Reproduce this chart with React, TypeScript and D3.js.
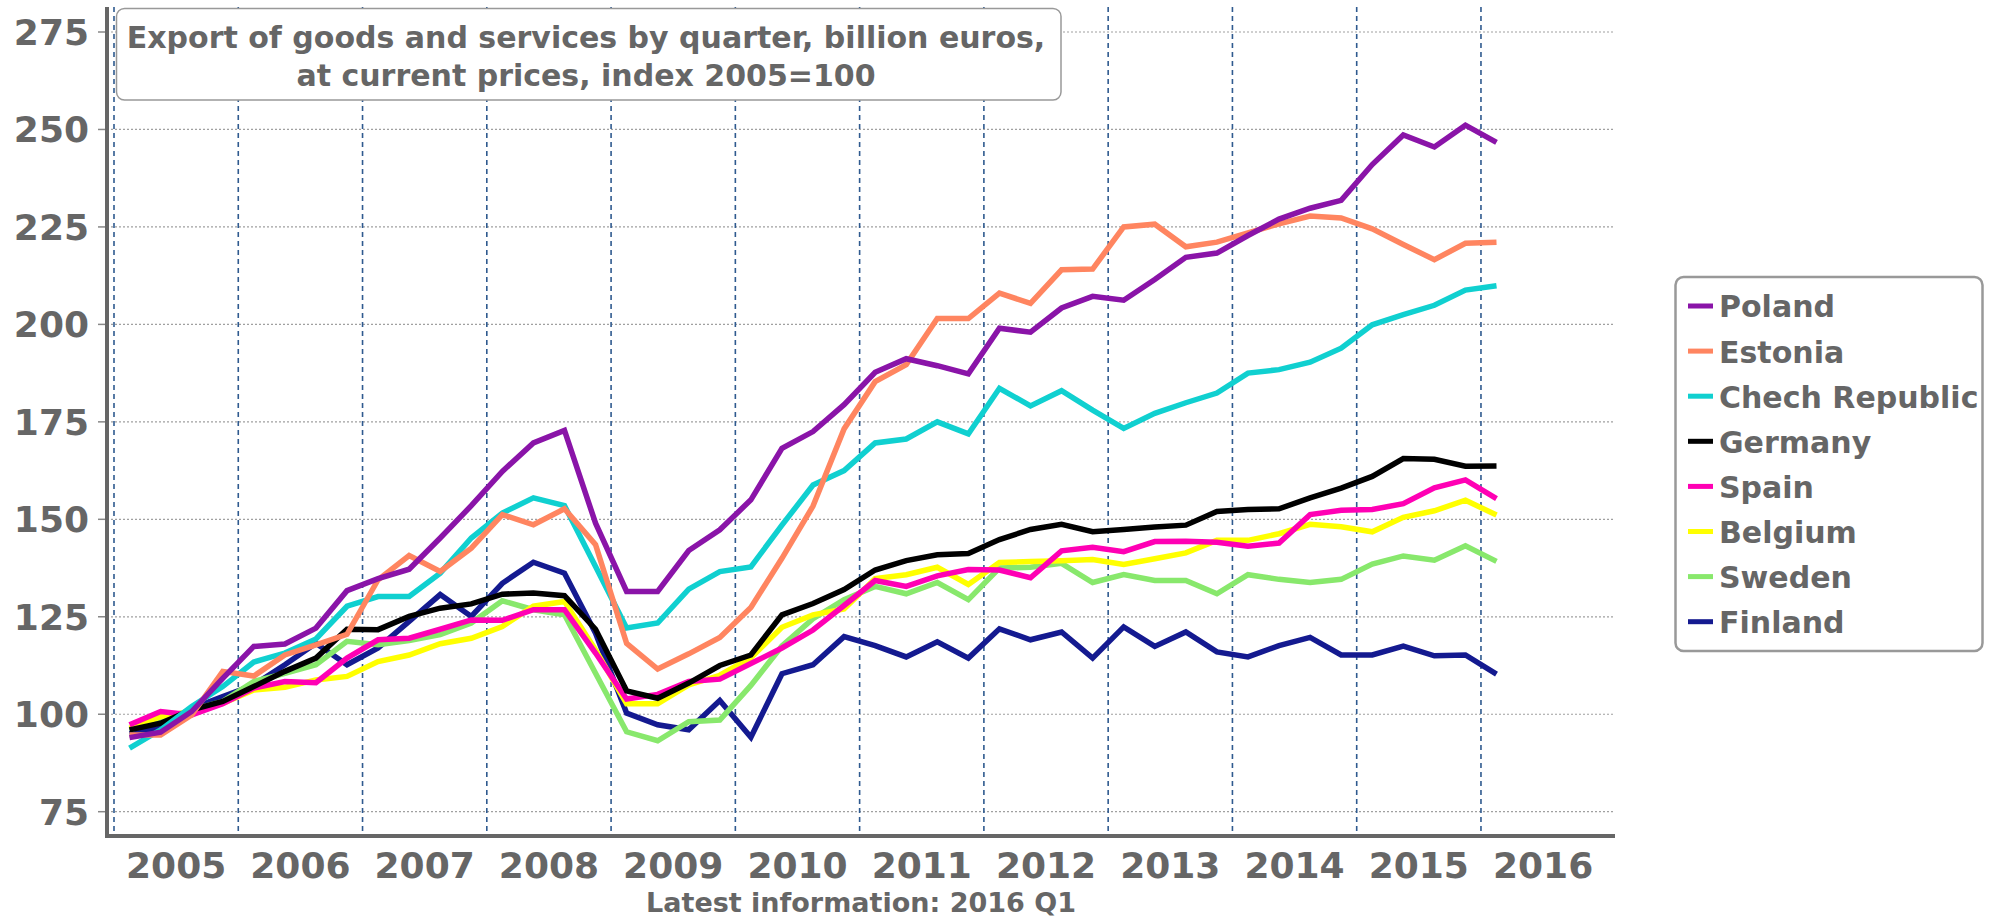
import React from 'react';
import * as d3 from 'd3';

// quarterly index values, 2005 Q1 .. 2016 Q1
const poland = [
  94.0, 95.4, 100.7, 109.2, 117.4, 118.0, 122.1, 131.7, 134.8, 137.2, 145.2, 153.5,
  162.3, 169.6, 172.8, 149.0, 131.5, 131.5, 142.0, 147.3, 155.0, 168.2, 172.5, 179.4,
  187.7, 191.2, 189.4, 187.3, 199.0, 198.0, 204.2, 207.2, 206.2, 211.5, 217.2, 218.3,
  222.8, 227.0, 229.8, 231.8, 241.0, 248.6, 245.5, 251.1, 246.7,
];
const estonia = [
  94.7, 94.7, 99.8, 111.0, 109.8, 115.2, 117.8, 120.5, 134.5, 140.7, 136.6, 142.6,
  151.2, 148.6, 152.7, 143.5, 118.2, 111.6, 115.5, 119.7, 127.4, 140.0, 153.4, 173.2,
  185.3, 189.7, 201.5, 201.5, 208.0, 205.4, 214.0, 214.2, 225.0, 225.7, 219.9, 221.1,
  223.5, 225.8, 227.8, 227.3, 224.5, 220.5, 216.6, 220.8, 221.1,
];
const czech = [
  91.3, 96.0, 102.0, 107.1, 113.4, 115.7, 119.3, 127.7, 130.2, 130.2, 136.2, 145.2,
  151.6, 155.5, 153.5, 137.9, 122.1, 123.4, 132.1, 136.6, 137.8, 148.5, 158.8, 162.5,
  169.6, 170.6, 175.0, 171.9, 183.6, 179.1, 183.0, 178.0, 173.3, 177.2, 179.9, 182.4,
  187.5, 188.4, 190.3, 193.9, 199.9, 202.5, 204.9, 208.8, 209.9,
];
const germany = [
  96.0, 97.7, 101.1, 103.3, 107.1, 111.0, 114.4, 121.8, 121.7, 125.1, 127.2, 128.3,
  130.8, 131.1, 130.4, 121.8, 106.0, 104.1, 108.0, 112.5, 115.2, 125.5, 128.4, 132.0,
  137.0, 139.4, 140.9, 141.2, 144.8, 147.4, 148.7, 146.8, 147.4, 148.0, 148.5, 152.0,
  152.5, 152.7, 155.5, 158.0, 161.0, 165.6, 165.4, 163.6, 163.7,
];
const spain = [
  97.3, 100.7, 99.8, 102.7, 106.7, 108.4, 108.1, 114.4, 119.1, 119.5, 121.8, 124.2,
  124.1, 126.8, 126.8, 115.7, 103.9, 105.1, 108.4, 109.0, 113.0, 117.0, 121.6, 127.9,
  134.3, 132.8, 135.5, 137.1, 137.0, 135.0, 141.9, 142.8, 141.7, 144.3, 144.4, 144.1,
  143.1, 143.9, 151.2, 152.3, 152.5, 154.0, 158.1, 160.1, 155.3,
];
const belgium = [
  96.4, 99.4, 100.7, 102.8, 106.2, 106.9, 108.8, 109.7, 113.5, 115.2, 118.1, 119.5,
  122.5, 127.7, 128.9, 116.5, 102.7, 102.7, 107.5, 110.0, 114.5, 122.3, 125.5, 127.0,
  134.8, 135.8, 137.7, 133.3, 138.9, 139.2, 139.4, 139.7, 138.4, 139.9, 141.4, 144.6,
  144.6, 146.3, 148.7, 148.1, 146.8, 150.5, 152.2, 154.9, 151.1,
];
const sweden = [
  96.0, 98.5, 101.1, 103.3, 108.4, 110.5, 112.7, 118.7, 117.8, 118.9, 120.4, 123.4,
  129.1, 126.8, 125.5, 110.5, 95.5, 93.2, 98.1, 98.5, 107.4, 117.5, 124.5, 129.4,
  132.8, 130.9, 133.8, 129.4, 137.5, 137.7, 138.7, 133.8, 135.8, 134.3, 134.3, 130.9,
  135.8, 134.6, 133.8, 134.6, 138.5, 140.6, 139.5, 143.2, 139.2,
];
const finland = [
  95.0, 96.4, 101.5, 104.5, 107.5, 112.7, 118.2, 112.7, 117.0, 123.8, 130.7, 125.1,
  133.6, 139.0, 136.2, 120.8, 100.3, 97.3, 96.0, 103.5, 94.1, 110.4, 112.7, 119.9,
  117.6, 114.7, 118.6, 114.4, 121.9, 119.1, 121.1, 114.4, 122.4, 117.4, 121.1, 116.0,
  114.7, 117.6, 119.7, 115.2, 115.2, 117.5, 115.0, 115.2, 110.3,
];

const countries = ['Poland', 'Estonia', 'Chech Republic', 'Germany', 'Spain', 'Belgium', 'Sweden', 'Finland'];
const colors = ['#8a14a8', '#ff8560', '#10d0d0', '#000000', '#ff00b4', '#ffff00', '#88e86c', '#141a90'];
const seriesValues = [poland, estonia, czech, germany, spain, belgium, sweden, finland];

const years = [2005, 2006, 2007, 2008, 2009, 2010, 2011, 2012, 2013, 2014, 2015, 2016];
const yTicks = [75, 100, 125, 150, 175, 200, 225, 250, 275];
const titleLines = ['Export of goods and services by quarter, billion euros,', 'at current prices, index 2005=100'];
const footnote = 'Latest information: 2016 Q1';

const W = 1999;
const H = 919;
const FONT = '"DejaVu Sans", Verdana, sans-serif';
const TEXT = '#666666';

export default function App() {
  const left = 107;
  const right = 1615;
  const top = 7;
  const bottom = 836;

  // x in quarters counted from the start of 2005
  const x = d3.scaleLinear().domain([0, 44]).range([114, 114 + 44 * (124.27 / 4)]);
  const y = d3.scaleLinear().domain([75, 275]).range([811.7, 32]);

  const line = d3.line<number>()
    .x((_, i) => x(i + 0.5))
    .y(d => y(d));

  const drawOrder = d3.range(countries.length).reverse();

  return (
    <svg width={W} height={H} style={{ position: 'absolute', left: 0, top: 0, background: '#fff' }}
      fontFamily={FONT}>
      {/* horizontal dotted grid */}
      {yTicks.map(t => (
        <g key={t}>
          <line x1={left} x2={right} y1={y(t)} y2={y(t)} stroke="#a0a0a0" strokeWidth={1.2} strokeDasharray="2,2" />
          <line x1={98} x2={left} y1={y(t)} y2={y(t)} stroke="#888" strokeWidth={1.5} />
          <text x={89} y={y(t)} dy="0.36em" textAnchor="end" fontSize={36} fontWeight="bold" fill={TEXT}>{t}</text>
        </g>
      ))}

      {/* year separators */}
      {years.map((yr, k) => (
        <line key={yr} x1={x(k * 4)} x2={x(k * 4)} y1={top} y2={bottom} stroke="#2f5a8f" strokeWidth={1.6} strokeDasharray="5,4" />
      ))}

      {/* series */}
      {drawOrder.map(i => (
        <path key={countries[i]} d={line(seriesValues[i]) || ''} fill="none" stroke={colors[i]}
          strokeWidth={5.5} strokeLinejoin="miter" strokeMiterlimit={3} />
      ))}

      {/* axes */}
      <line x1={left} x2={left} y1={top} y2={bottom + 2} stroke="#666" strokeWidth={4} />
      <line x1={left - 2} x2={right} y1={bottom} y2={bottom} stroke="#666" strokeWidth={4} />

      {years.map((yr, k) => (
        <text key={yr} x={x(k * 4 + 2)} y={878} textAnchor="middle" fontSize={36} fontWeight="bold" fill={TEXT}>{yr}</text>
      ))}

      <text x={(left + right) / 2} y={912} textAnchor="middle" fontSize={27} fontWeight="bold" fill={TEXT}>{footnote}</text>

      {/* title box */}
      <rect x={116.5} y={8.5} width={944.5} height={91.5} rx={8} fill="#fff" stroke="#999" strokeWidth={1.5} />
      {titleLines.map((t, i) => (
        <text key={i} x={586} y={48 + i * 38} textAnchor="middle" fontSize={30} fontWeight="bold" fill={TEXT}>{t}</text>
      ))}

      {/* legend */}
      <rect x={1675.5} y={277} width={307} height={374} rx={8} fill="#fff" stroke="#999" strokeWidth={2.5} />
      {countries.map((c, i) => (
        <g key={c} transform={`translate(0,${306 + i * 45.1})`}>
          <rect x={1688} y={-2.5} width={25} height={5} fill={colors[i]} />
          <text x={1719} y={0} dy="0.38em" fontSize={30} fontWeight="bold" fill={TEXT}>{c}</text>
        </g>
      ))}
    </svg>
  );
}
